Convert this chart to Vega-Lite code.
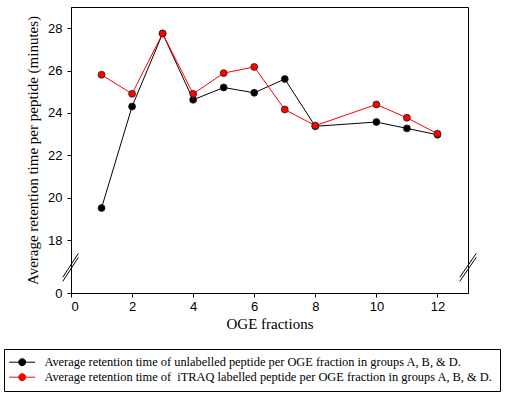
{
  "$schema": "https://vega.github.io/schema/vega-lite/v6.json",
  "autosize": {"type": "none"},
  "padding": {"left": 71, "top": 7, "right": 40, "bottom": 109},
  "width": 397,
  "height": 286,
  "background": "white",
  "datasets": {
    "series": [
      {"fraction": 1, "series": "unlabelled", "rt": 19.51},
      {"fraction": 2, "series": "unlabelled", "rt": 24.3},
      {"fraction": 3, "series": "unlabelled", "rt": 27.75},
      {"fraction": 4, "series": "unlabelled", "rt": 24.62},
      {"fraction": 5, "series": "unlabelled", "rt": 25.2},
      {"fraction": 6, "series": "unlabelled", "rt": 24.95},
      {"fraction": 7, "series": "unlabelled", "rt": 25.6},
      {"fraction": 8, "series": "unlabelled", "rt": 23.37},
      {"fraction": 10, "series": "unlabelled", "rt": 23.57},
      {"fraction": 11, "series": "unlabelled", "rt": 23.27},
      {"fraction": 12, "series": "unlabelled", "rt": 22.97},
      {"fraction": 1, "series": "iTRAQ", "rt": 25.8},
      {"fraction": 2, "series": "iTRAQ", "rt": 24.9},
      {"fraction": 3, "series": "iTRAQ", "rt": 27.75},
      {"fraction": 4, "series": "iTRAQ", "rt": 24.9},
      {"fraction": 5, "series": "iTRAQ", "rt": 25.88},
      {"fraction": 6, "series": "iTRAQ", "rt": 26.17},
      {"fraction": 7, "series": "iTRAQ", "rt": 24.16},
      {"fraction": 8, "series": "iTRAQ", "rt": 23.4},
      {"fraction": 10, "series": "iTRAQ", "rt": 24.4},
      {"fraction": 11, "series": "iTRAQ", "rt": 23.77},
      {"fraction": 12, "series": "iTRAQ", "rt": 23.02}
    ],
    "breaks": [
      {"x": -0.27, "x2": 0.24, "y": 16.24, "y2": 17.37},
      {"x": -0.27, "x2": 0.24, "y": 16.05, "y2": 17.18},
      {"x": 12.73, "x2": 13.27, "y": 16.24, "y2": 17.37},
      {"x": 12.73, "x2": 13.27, "y": 16.05, "y2": 17.18}
    ]
  },
  "layer": [
    {
      "data": {"name": "series"},
      "mark": {"type": "line", "strokeWidth": 1},
      "encoding": {
        "x": {
          "field": "fraction",
          "type": "quantitative",
          "scale": {"domain": [0, 13], "nice": false},
          "axis": {
            "values": [0, 2, 4, 6, 8, 10, 12],
            "title": "OGE fractions",
            "grid": false
          }
        },
        "y": {
          "field": "rt",
          "type": "quantitative",
          "scale": {"domain": [15.5, 29], "nice": false, "zero": false},
          "axis": {
            "values": [15.5, 18, 20, 22, 24, 26, 28],
            "labelExpr": "datum.value == 15.5 ? '0' : datum.label",
            "title": "Average retention time per peptide (minutes)",
            "grid": false
          }
        },
        "color": {
          "field": "series",
          "type": "nominal",
          "scale": {"domain": ["unlabelled", "iTRAQ"], "range": ["#000000", "#ff0000"]},
          "legend": {
            "title": null,
            "orient": "none",
            "legendX": -67,
            "legendY": 342,
            "direction": "vertical",
            "symbolType": "M-3.7,0L-1,0M1,0L3.7,0M-1,0A1,1,0,1,0,1,0A1,1,0,1,0,-1,0Z",
            "symbolSize": 49,
            "labelExpr": "datum.value == 'unlabelled' ? 'Average retention time of unlabelled peptide per OGE fraction in groups A, B, & D.' : 'Average retention time of \u00a0iTRAQ labelled peptide per OGE fraction in groups A, B, & D.'",
            "encode": {
              "symbols": {
                "update": {
                  "fill": {"scale": "color", "field": "value"},
                  "stroke": {"scale": "color", "field": "value"},
                  "strokeWidth": {"value": 1}
                }
              }
            }
          }
        }
      }
    },
    {
      "data": {"name": "series"},
      "mark": {"type": "point", "filled": true, "size": 48, "stroke": "#222222", "strokeWidth": 0.8, "opacity": 1},
      "encoding": {
        "x": {"field": "fraction", "type": "quantitative"},
        "y": {"field": "rt", "type": "quantitative"},
        "color": {"field": "series", "type": "nominal", "legend": null}
      }
    },
    {
      "data": {"name": "breaks"},
      "mark": {"type": "rule", "color": "black", "strokeWidth": 1, "clip": false},
      "encoding": {
        "x": {"field": "x", "type": "quantitative"},
        "x2": {"field": "x2"},
        "y": {"field": "y", "type": "quantitative"},
        "y2": {"field": "y2"}
      }
    }
  ],
  "config": {
    "view": {"stroke": "black", "strokeWidth": 1},
    "axis": {
      "domainColor": "black",
      "tickColor": "black",
      "tickSize": 4,
      "labelFont": "Liberation Sans",
      "labelFontSize": 13,
      "labelColor": "black",
      "titleFont": "Liberation Serif",
      "titleFontSize": 15,
      "titleFontWeight": "normal",
      "titleColor": "black"
    },
    "axisX": {"labelPadding": 3, "titlePadding": 3},
    "axisY": {"labelPadding": 5, "titlePadding": 7},
    "legend": {
      "strokeColor": "black",
      "padding": 7,
      "labelFont": "Liberation Serif",
      "labelFontSize": 12.4,
      "labelColor": "black",
      "labelLimit": 0,
      "labelOffset": 16,
      "rowPadding": 2,
      "symbolOffset": 5,
      "symbolStrokeWidth": 1,
      "symbolOpacity": 1
    }
  }
}
